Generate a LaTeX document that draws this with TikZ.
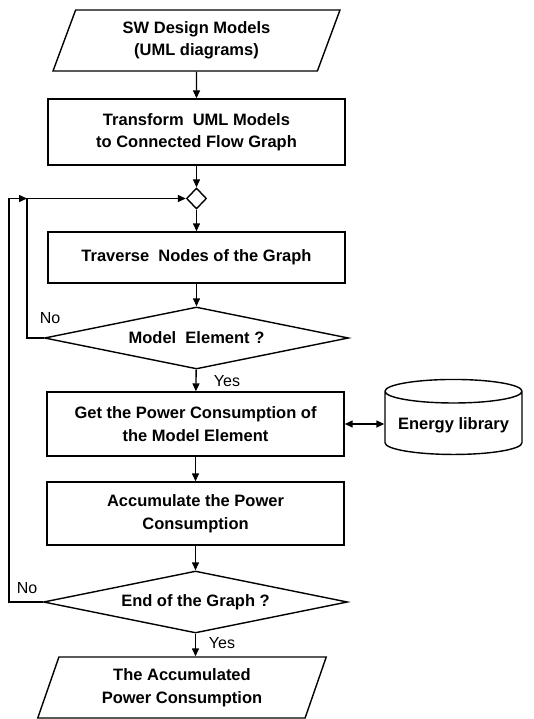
\documentclass[tikz,border=0pt]{standalone}
\usepackage{fontspec}
\setmainfont{Liberation Sans}
\usetikzlibrary{shapes.geometric,arrows.meta}
\begin{document}
\begin{tikzpicture}[x=1pt, y=-1pt, line width=1.4pt,
    font=\fontsize{16.5}{22.5}\selectfont\bfseries,
    >={Triangle[length=8pt,width=7pt]},
    procbox/.style={draw, rectangle, align=center, minimum width=297pt, inner sep=0pt},
    iobox/.style={draw, trapezium, trapezium left angle=70, trapezium right angle=110,
      trapezium stretches=true, align=center, minimum width=287pt, minimum height=61pt, inner sep=0pt},
    decision/.style={draw, diamond, aspect=5, minimum width=304pt, minimum height=62pt, inner sep=0pt},
    answer/.style={font=\fontsize{16}{18}\selectfont, inner sep=0pt}]
  \useasboundingbox (0,0) rectangle (534,719);
  \node[iobox] (models) at (196.5,40.5) {SW Design Models\\(UML diagrams)};
  \node[procbox, minimum height=66pt] (transform) at (196.5,132) {Transform\ \ UML Models\\to Connected Flow Graph};
  \node[draw, diamond, minimum width=20pt, minimum height=21pt, inner sep=0pt] (merge) at (196.5,198.5) {};
  \node[procbox, minimum height=51pt] (traverse) at (196.5,257.5) {Traverse\ \ Nodes of the Graph};
  \node[decision] (iselem) at (196.5,338) {Model\ \ Element ?};
  \node[procbox, minimum height=64pt] (getpower) at (195.5,424) {Get the Power Consumption of\\the Model Element};
  \node[draw, cylinder, shape border rotate=90, aspect=0.2, minimum width=137pt, minimum height=75pt] (library) at (453.5,425) {Energy library};
  \node[procbox, minimum height=63pt] (accum) at (195.5,513.5) {Accumulate the Power\\Consumption};
  \node[decision] (isend) at (195.5,602) {End of the Graph ?};
  \node[iobox, minimum width=289pt] (result) at (182,687.5) {The Accumulated\\Power Consumption};
  \coordinate (inner) at (27,198.5);
  \coordinate (outer) at (9,198.5);
  \node[answer] (no1) at (50,318) {No};
  \node[answer] (yes1) at (227,381) {Yes};
  \node[answer] (no2) at (27,588) {No};
  \node[answer] (yes2) at (222,643) {Yes};
  \draw[->] (models) -- (transform);
  \draw[->] (transform) -- (merge);
  \draw[->] (merge) -- (traverse);
  \draw[->] (traverse) -- (iselem);
  \draw[->] (iselem) -- (getpower);
  \draw[<->] (getpower) -- (getpower -| library.west);
  \draw[->] (getpower) -- (accum);
  \draw[->] (accum) -- (isend);
  \draw[->] (isend.south) -- (isend.south |- result.north);
  \draw[->] (iselem.west) -| (inner) -- (merge.west);
  \draw[->] (isend.west) -| (outer) -- (inner);
\end{tikzpicture}
\end{document}
